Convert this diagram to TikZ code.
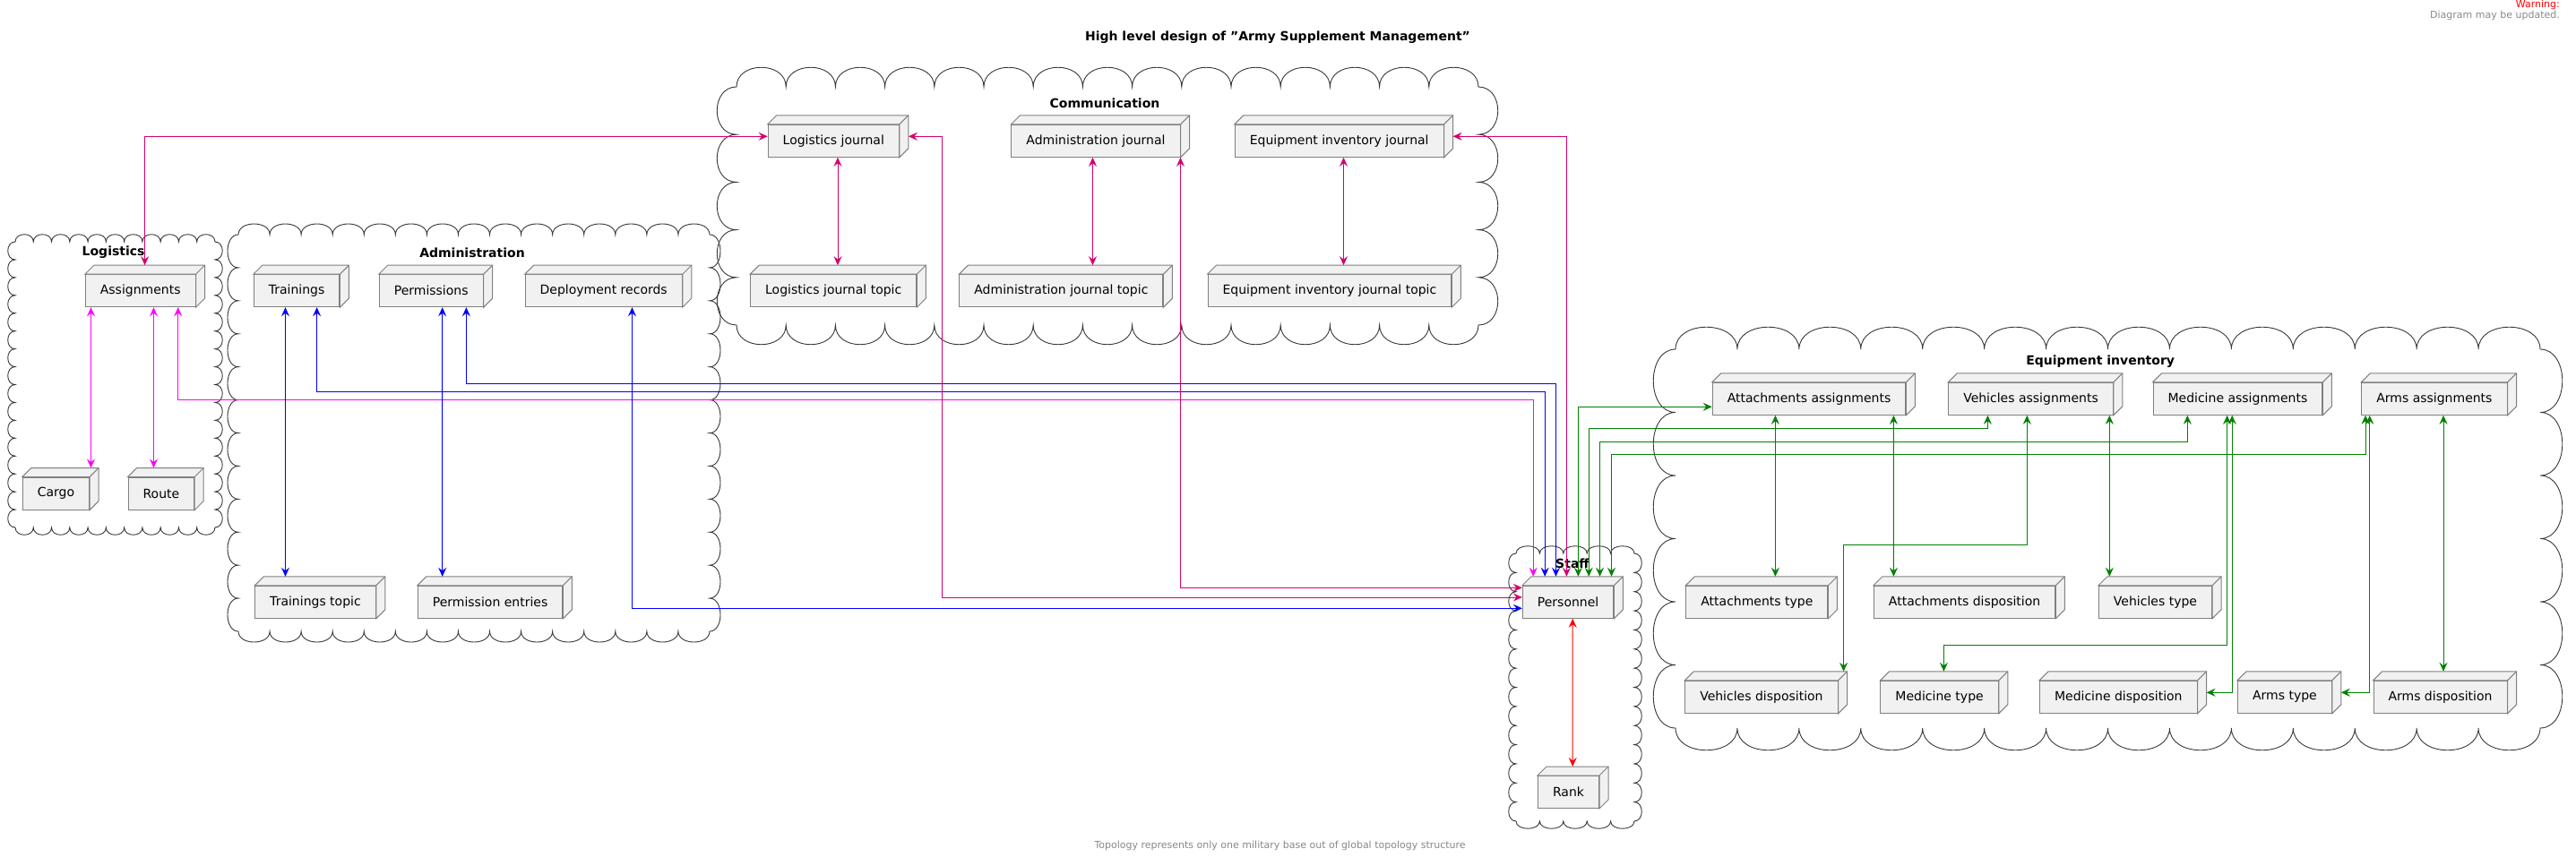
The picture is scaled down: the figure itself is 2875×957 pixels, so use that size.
\documentclass[tikz,border=0pt]{standalone}
\usepackage{fontspec}
\setmainfont{DejaVu Sans}
\usetikzlibrary{arrows.meta,calc}
\definecolor{nodefill}{HTML}{F1F1F1}
\definecolor{nodeline}{HTML}{808080}
\definecolor{cloudgray}{HTML}{383838}
\definecolor{notegray}{HTML}{888888}
\definecolor{lgcol}{HTML}{FF00FF}
\definecolor{adcol}{HTML}{0000FF}
\definecolor{cmcol}{HTML}{D6006C}
\definecolor{eqcol}{HTML}{008000}
\definecolor{stcol}{HTML}{FF0000}
\tikzset{box/.style={draw=nodeline,fill=nodefill,line width=1pt,minimum height=36pt,inner xsep=16.5pt,font=\fontsize{14}{16}\selectfont},
	face/.style={draw=nodeline,fill=nodefill,line width=1pt},
	cloudline/.style={draw=cloudgray,line width=0.9pt},
	cloudtitle/.style={font=\bfseries\fontsize{14}{16}\selectfont},
	note/.style={font=\fontsize{11}{13}\selectfont,inner sep=0pt},
	link/.style={line width=1pt,{Stealth[length=10pt,width=9pt,inset=3.5pt]}-{Stealth[length=10pt,width=9pt,inset=3.5pt]}},
	lglink/.style={link,draw=lgcol},
	adlink/.style={link,draw=adcol},
	cmlink/.style={link,draw=cmcol},
	eqlink/.style={link,draw=eqcol},
	stlink/.style={link,draw=stcol}}
% cloud round the box (x1,y1)-(x2,y2): bumps across, bumps down, bump height
\newcommand{\cloudbox}[7]{%
	\pgfmathsetmacro{\cdx}{(#3-#1)/#5}%
	\pgfmathsetmacro{\cdy}{(#4-#2)/#6}%
	\draw[cloudline] (#1,#2)
		\foreach \i in {1,...,#5}{ .. controls ({#1+(\i-1)*\cdx},{#2-#7}) and ({#1+\i*\cdx},{#2-#7}) .. ({#1+\i*\cdx},#2)}
		\foreach \i in {1,...,#6}{ .. controls ({#3+#7},{#2+(\i-1)*\cdy}) and ({#3+#7},{#2+\i*\cdy}) .. (#3,{#2+\i*\cdy})}
		\foreach \i in {1,...,#5}{ .. controls ({#3-(\i-1)*\cdx},{#4+#7}) and ({#3-\i*\cdx},{#4+#7}) .. ({#3-\i*\cdx},#4)}
		\foreach \i in {1,...,#6}{ .. controls ({#1-#7},{#4-(\i-1)*\cdy}) and ({#1-#7},{#4-\i*\cdy}) .. (#1,{#4-\i*\cdy})}
		-- cycle;}

\begin{document}
\begin{tikzpicture}[x=1pt,y=-1pt]
		\useasboundingbox (0,0) rectangle (2875,957);
		% clouds
		\cloudbox{17}{270}{240}{589}{11}{16}{11}
		\cloudbox{266}{262}{792}{705}{15}{12}{16}
		\cloudbox{822}{97}{1650}{363}{15}{5}{29}
		\cloudbox{1692}{618}{1824}{917}{5}{14}{11}
		\cloudbox{1870}{390}{2835}{813}{14}{6}{33}
		\node[cloudtitle] (lgtitle) at (126.6,281.7) {Logistics};
		\node[cloudtitle] (adtitle) at (527,282) {Administration};
		\node[cloudtitle] (cmtitle) at (1233,115) {Communication};
		\node[cloudtitle] (sttitle) at (1755,629.3) {Staff};
		\node[cloudtitle] (eqtitle) at (2344.2,403.3) {Equipment inventory};
		% nodes
		\node[box] (asg) at (156.7,324.7) {Assignments};
		\node[box] (cargo) at (62.5,551) {Cargo};
		\node[box] (route) at (179.9,551) {Route};
		\node[box] (trn) at (331.1,324.7) {Trainings};
		\node[box] (perm) at (481.2,324.7) {Permissions};
		\node[box] (dep) at (673.7,324.7) {Deployment records};
		\node[box] (trntopic) at (352,672.3) {Trainings topic};
		\node[box] (permentries) at (547.1,672.3) {Permission entries};
		\node[box] (lj) at (930.3,157.3) {Logistics journal};
		\node[box] (aj) at (1223,157.3) {Administration journal};
		\node[box] (eij) at (1494.7,157.3) {Equipment inventory journal};
		\node[box] (ljt) at (930.2,324.7) {Logistics journal topic};
		\node[box] (ajt) at (1184.4,324.7) {Administration journal topic};
		\node[box] (eijt) at (1483.9,324.7) {Equipment inventory journal topic};
		\node[box] (per) at (1750.1,672.3) {Personnel};
		\node[box] (rank) at (1750.5,884.5) {Rank};
		\node[box] (atasg) at (2019,445.3) {Attachments assignments};
		\node[box] (vasg) at (2266.5,445.3) {Vehicles assignments};
		\node[box] (masg) at (2497.4,445.3) {Medicine assignments};
		\node[box] (arasg) at (2716.9,445.3) {Arms assignments};
		\node[box] (attype) at (1960.9,672.3) {Attachments type};
		\node[box] (atdisp) at (2192.6,672.3) {Attachments disposition};
		\node[box] (vtype) at (2405.5,672.3) {Vehicles type};
		\node[box] (vdisp) at (1965.9,778.3) {Vehicles disposition};
		\node[box] (mtype) at (2164.6,778.3) {Medicine type};
		\node[box] (mdisp) at (2364.3,778.3) {Medicine disposition};
		\node[box] (artype) at (2549.9,778.3) {Arms type};
		\node[box] (ardisp) at (2723.5,778.3) {Arms disposition};
		\foreach \n in {asg,cargo,route,trn,perm,dep,trntopic,permentries,lj,aj,eij,ljt,ajt,eijt,per,rank,atasg,vasg,masg,arasg,attype,atdisp,vtype,vdisp,mtype,mdisp,artype,ardisp}{
			\draw[face] (\n.north west) -- ++(10,-10) -- ($(\n.north east)+(10,-10)$) -- ($(\n.south east)+(10,-10)$) -- (\n.south east) -- (\n.north east) -- cycle;
			\draw[face] (\n.north east) -- ++(10,-10);
		}
		% logistics
		\draw[lglink] ($(asg.south)+(-55.2,0)$) -- ($(cargo.north)+(39,-10)$);
		\draw[lglink] ($(asg.south)+(14.8,0)$) -- ($(route.north)+(-8.4,-10)$);
		\draw[lglink] ($(asg.south)+(42,0)$) -- ++(0,102.8) -| ($(per.north)+(-38.9,-10)$);
		% administration
		\draw[adlink] ($(trn.south)+(-12.6,0)$) -- ($(trntopic.north)+(-33.5,-10)$);
		\draw[adlink] ($(trn.south)+(22.5,0)$) -- ++(0,93.8) -| ($(per.north)+(-25.9,-10)$);
		\draw[adlink] ($(perm.south)+(12.5,0)$) -- ($(permentries.north)+(-53.4,-10)$);
		\draw[adlink] ($(perm.south)+(39.2,0)$) -- ++(0,84.8) -| ($(per.north)+(-13.6,-10)$);
		\draw[adlink] ($(dep.south)+(31.8,0)$) |- ($(per.west)+(0,7)$);
		% communication
		\draw[cmlink] ($(lj.south)+(4.7,0)$) -- ($(ljt.north)+(4.8,-10)$);
		\draw[cmlink] ($(aj.south)+(-3.5,0)$) -- ($(ajt.north)+(35.1,-10)$);
		\draw[cmlink] ($(eij.south)+(4.8,0)$) -- ($(eijt.north)+(15.6,-10)$);
		\draw[cmlink] ($(asg.north)+(4.9,-10)$) |- ($(lj.west)+(0,-5)$);
		\draw[cmlink] ($(lj.east)+(10,-5)$) -- ++(38,0) |- ($(per.west)+(0,-5.3)$);
		\draw[cmlink] ($(aj.south)+(94.5,0)$) |- ($(per.west)+(0,-16)$);
		\draw[cmlink] ($(eij.east)+(10,-5)$) -| ($(per.north)+(-1.7,-10)$);
		% staff
		\draw[stlink] ($(per.south)+(5.1,0)$) -- ($(rank.north)+(4.7,-10)$);
		% equipment inventory
		\draw[eqlink] ($(per.north)+(11.3,-10)$) |- ($(atasg.west)+(0,9)$);
		\draw[eqlink] ($(per.north)+(23.1,-10)$) -- ++(0,-165.6) -| ($(vasg.south)+(-48.1,0)$);
		\draw[eqlink] ($(per.north)+(35.4,-10)$) -- ++(0,-150.8) -| ($(masg.south)+(-56.1,0)$);
		\draw[eqlink] ($(per.north)+(48.4,-10)$) -- ++(0,-136) -| ($(arasg.south)+(-76.9,0)$);
		\draw[eqlink] ($(atasg.south)+(-37.6,0)$) -- ($(attype.north)+(20.5,-10)$);
		\draw[eqlink] ($(atasg.south)+(94.4,0)$) -- ($(atdisp.north)+(-79.2,-10)$);
		\draw[eqlink] ($(vasg.south)+(-4.2,0)$) -- ++(0,144.2) -| ($(vdisp.north)+(91.7,-10)$);
		\draw[eqlink] ($(vasg.south)+(87.8,0)$) -- ($(vtype.north)+(-51.2,-10)$);
		\draw[eqlink] ($(masg.south)+(-11.8,0)$) -- ++(0,257) -| ($(mtype.north)+(4.8,-10)$);
		\draw[eqlink] ($(masg.south)+(-6.2,0)$) |- ($(mdisp.east)+(10,-5)$);
		\draw[eqlink] ($(arasg.south)+(-72.2,0)$) |- ($(artype.east)+(10,-5)$);
		\draw[eqlink] ($(arasg.south)+(10.1,0)$) -- ($(ardisp.north)+(3.5,-10)$);
		% title and notes
		\node[font=\bfseries\fontsize{14}{16}\selectfont] (title) at (1426,41.7) {High level design of "Army Supplement Management"};
		\node[note,anchor=east,text=stcol] (warn) at (2857,5.5) {Warning:};
		\node[note,anchor=east,text=notegray] (upd) at (2857,17) {Diagram may be updated.};
		\node[note,text=notegray] (foot) at (1428.6,944) {Topology represents only one military base out of global topology structure};
		\end{tikzpicture}
\end{document}
